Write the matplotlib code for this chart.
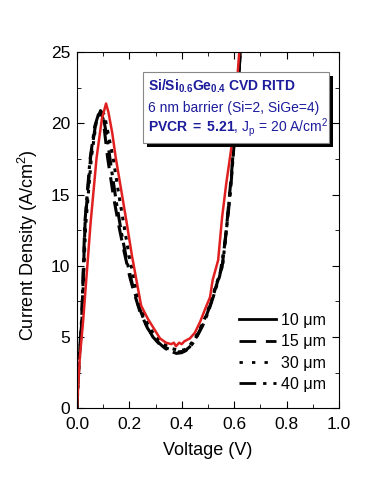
import matplotlib
matplotlib.use("Agg")
import matplotlib.pyplot as plt
from matplotlib.lines import Line2D
from matplotlib.patches import Rectangle

plt.rcParams['font.family'] = ['Liberation Sans', 'DejaVu Sans']
plt.rcParams['mathtext.fontset'] = 'custom'
plt.rcParams['mathtext.rm'] = 'Liberation Sans'
plt.rcParams['mathtext.bf'] = 'Liberation Sans:bold'
plt.rcParams['mathtext.it'] = 'Liberation Sans:italic'

# I-V curves
v_10 = [0.0, 0.004, 0.011, 0.023, 0.052, 0.075, 0.095, 0.111, 0.12, 0.135, 0.148, 0.17,
        0.19, 0.21, 0.234, 0.245, 0.27, 0.29, 0.317, 0.34, 0.36, 0.37, 0.378, 0.39, 0.40,
        0.41, 0.431, 0.45, 0.47, 0.49, 0.508, 0.518, 0.539, 0.554, 0.57, 0.588, 0.605,
        0.62, 0.63]
j_10 = [0.0, 1.3, 3.6, 6.0, 13.0, 17.6, 20.3, 21.4, 20.8, 19.3, 17.6, 15.2,
        13.0, 10.7, 8.3, 7.2, 6.3, 5.7, 4.9, 4.6, 4.5, 4.6, 4.35, 4.6, 4.5,
        4.7, 4.9, 5.3, 6.06, 7.0, 7.8, 9.0, 10.4, 13.4, 15.8, 18.1, 21.5,
        25.1, 27.0]

v_15 = [0.0, 0.004, 0.01, 0.018, 0.031, 0.052, 0.07, 0.09, 0.10, 0.117, 0.14, 0.16, 0.18,
        0.202, 0.22, 0.24, 0.27, 0.30, 0.33, 0.36, 0.386, 0.41, 0.43, 0.45, 0.47, 0.49,
        0.51, 0.53, 0.554, 0.57, 0.59, 0.605, 0.62, 0.63]
j_15 = [0.0, 1.8, 3.8, 6.0, 13.0, 17.6, 19.8, 20.9, 20.3, 17.6, 14.8, 12.8, 11.0,
        9.2, 8.0, 6.8, 5.6, 4.8, 4.3, 4.1, 3.95, 4.0, 4.3, 4.8, 5.5, 6.3,
        7.3, 8.5, 9.9, 12.5, 16.5, 20.0, 24.0, 27.0]

v_30 = [0.0, 0.004, 0.01, 0.018, 0.033, 0.055, 0.073, 0.092, 0.105, 0.12, 0.138, 0.158,
        0.178, 0.20, 0.22, 0.24, 0.27, 0.30, 0.33, 0.36, 0.39, 0.41, 0.43, 0.45, 0.47,
        0.49, 0.51, 0.53, 0.556, 0.572, 0.592, 0.607, 0.62, 0.63]
j_30 = [0.0, 1.6, 3.6, 5.8, 12.8, 17.6, 20.0, 21.0, 20.6, 19.2, 17.6, 15.2,
        13.0, 10.6, 8.9, 7.3, 5.9, 5.0, 4.5, 4.2, 4.05, 4.1, 4.4, 4.9, 5.6,
        6.4, 7.4, 8.6, 10.0, 12.8, 16.8, 20.2, 24.0, 27.0]

v_40 = [0.0, 0.004, 0.01, 0.018, 0.03, 0.05, 0.068, 0.088, 0.10, 0.115, 0.13, 0.15, 0.17,
        0.19, 0.21, 0.235, 0.26, 0.29, 0.32, 0.35, 0.38, 0.40, 0.42, 0.44, 0.46, 0.48,
        0.50, 0.52, 0.545, 0.565, 0.585, 0.60, 0.615, 0.63]
j_40 = [0.0, 2.0, 4.0, 6.3, 13.0, 17.5, 19.8, 21.0, 20.5, 19.0, 17.0, 14.5, 12.3,
        10.4, 8.8, 7.2, 6.0, 5.0, 4.4, 4.05, 3.85, 3.9, 4.1, 4.5, 5.1, 5.8,
        6.7, 7.8, 9.3, 11.6, 15.0, 18.6, 22.5, 27.0]

labels = ["10 \u03bcm", "15 \u03bcm", "30 \u03bcm", "40 \u03bcm"]

fig = plt.figure(figsize=(3.7, 4.93), dpi=100)
ax = fig.add_axes([0.208, 0.172, 0.708, 0.722])

ax.plot(v_15, j_15, color="black", lw=2.2, ls=(0, (5, 3)))
ax.plot(v_30, j_30, color="black", lw=2.2, ls=(0, (1.2, 2)))
ax.plot(v_40, j_40, color="black", lw=2.2, ls=(0, (5, 2, 1.2, 2)))
ax.plot(v_10, j_10, color="#e02020", lw=1.8)

ax.set_xlim(0, 1.0)
ax.set_ylim(0, 25)
ax.set_xticks([0.0, 0.2, 0.4, 0.6, 0.8, 1.0])
ax.set_xticks([0.1, 0.3, 0.5, 0.7, 0.9], minor=True)
ax.set_yticks([0, 5, 10, 15, 20, 25])
ax.set_yticks([2.5, 7.5, 12.5, 17.5, 22.5], minor=True)
ax.tick_params(which="both", direction="in", top=True, right=True, labelsize=12.5)
ax.tick_params(which="major", length=5)
ax.tick_params(which="minor", length=3)
ax.tick_params(axis="x", pad=6)
ax.tick_params(axis="y", pad=5)
ax.set_xlabel("Voltage (V)", fontsize=13)
ax.set_ylabel("Current Density (A/cm$^2$)", fontsize=13)
ax.xaxis.set_label_coords(0.5, -0.095)
ax.yaxis.set_label_coords(-0.142, 0.458)

handles = [Line2D([], [], color="black", lw=2.0, ls="-"),
           Line2D([], [], color="black", lw=2.0, ls=(0, (6, 3.5))),
           Line2D([], [], color="black", lw=2.0, ls=(0, (1.2, 3.3))),
           Line2D([], [], color="black", lw=2.0, ls=(0, (6, 2.5, 1.2, 2.5)))]
ax.legend(handles, labels, loc="lower right", bbox_to_anchor=(1.005, 0.005),
          frameon=False, fontsize=11.5, handlelength=2.3, handletextpad=0.3,
          labelspacing=0.4)

# info box with shadow
ax.add_patch(Rectangle((0.267, 0.733), 0.71, 0.2, transform=ax.transAxes,
                       facecolor="black", edgecolor="none", zorder=5))
ax.add_patch(Rectangle((0.252, 0.744), 0.71, 0.2, transform=ax.transAxes,
                       facecolor="white", edgecolor="#888888", lw=0.8, zorder=6))
blue = "#1c1c9c"
ax.text(0.272, 0.905, r"Si/Si$_{\mathbf{0.6}}$Ge$_{\mathbf{0.4}}$ CVD RITD",
        transform=ax.transAxes, fontsize=10, fontweight="bold", color=blue,
        va="center", zorder=7)
ax.text(0.272, 0.843, "6 nm barrier (Si=2, SiGe=4)", transform=ax.transAxes,
        fontsize=10, color=blue, va="center", zorder=7)
ax.text(0.272, 0.778, r"$\mathbf{PVCR\ =\ 5.21}$, J$_\mathrm{p}$ = 20 A/cm$^2$",
        transform=ax.transAxes, fontsize=10, color=blue, va="baseline", zorder=7)

fig.savefig("out.png", dpi=100)
plt.close(fig)
